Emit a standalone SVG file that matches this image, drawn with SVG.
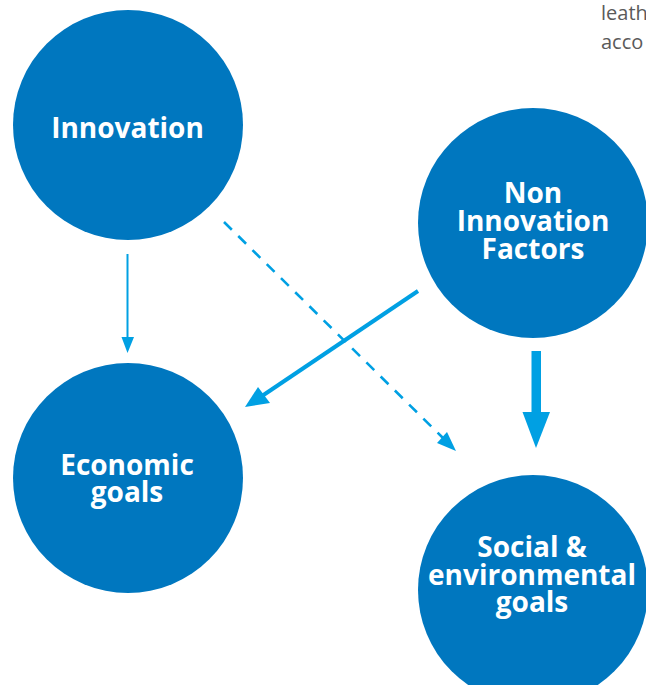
<svg xmlns="http://www.w3.org/2000/svg" width="646" height="685" viewBox="0 0 646 685">
<style>
.node{fill:#0077bf}
.lbl{font-family:"Open Sans","DejaVu Sans",sans-serif;font-weight:bold;font-size:28px;fill:#fff;text-anchor:middle}
.gray{font-family:"Open Sans","Liberation Sans",sans-serif;font-size:20px;fill:#5a5a5a}
.ar{stroke:#00a0e3;fill:none}
.ah{fill:#00a0e3}
</style>
<rect width="646" height="685" fill="#fff"/>
<text class="gray" x="601" y="20">leath</text>
<text class="gray" x="601" y="49">acco</text>
<g id="connectors">
<line class="ar" x1="127.5" y1="254" x2="127.5" y2="339" stroke-width="2"/>
<polygon class="ah" points="121.5,337 134,337 127.5,353"/>
<line class="ar" x1="224" y1="222" x2="443" y2="438" stroke-width="2.6" stroke-dasharray="11,9"/>
<polygon class="ah" points="456,451 437,443 447,432"/>
<line class="ar" x1="418" y1="291" x2="262" y2="396" stroke-width="4"/>
<polygon class="ah" points="245,407 258,387 270,403"/>
<rect class="ah" x="531.5" y="351" width="9.5" height="63"/>
<polygon class="ah" points="522.5,412 550,412 536,448"/>
</g>
<g id="innovation">
<circle class="node" cx="128" cy="125" r="115"/>
<text class="lbl" x="127.5" y="138">Innovation</text>
</g>
<g id="non-innovation">
<circle class="node" cx="533" cy="223" r="115"/>
<text class="lbl" x="533" y="203">Non</text>
<text class="lbl" x="533" y="231">Innovation</text>
<text class="lbl" x="533" y="259">Factors</text>
</g>
<g id="economic">
<circle class="node" cx="128" cy="478" r="115"/>
<text class="lbl" x="127" y="475">Economic</text>
<text class="lbl" x="127" y="502">goals</text>
</g>
<g id="social">
<circle class="node" cx="533" cy="590" r="115"/>
<text class="lbl" x="532" y="557">Social &amp;</text>
<text class="lbl" x="532" y="584.5">environmental</text>
<text class="lbl" x="532" y="612">goals</text>
</g>
</svg>
